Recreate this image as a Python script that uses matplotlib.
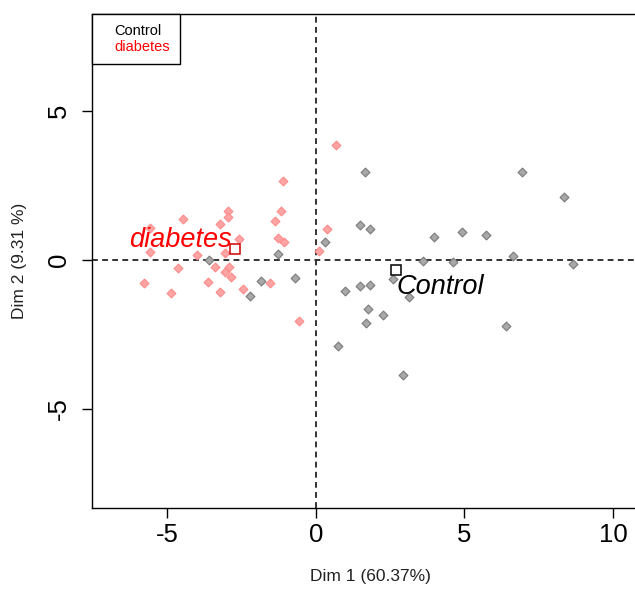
import numpy as np
import matplotlib
matplotlib.use("Agg")
import matplotlib.pyplot as plt
from matplotlib.lines import Line2D

plt.rcParams['font.family'] = ['Liberation Sans', 'DejaVu Sans']
plt.rcParams['axes.unicode_minus'] = False

# individuals on the first two principal components
diab_x = [-1.10, -1.18, -1.38, -1.27, -1.08, -2.97, -2.95, -3.23, -4.49, -5.59,
          -5.59, -2.58, -4.02, -3.06, -4.64, -3.39, -2.92, -3.06, -2.87, -3.63,
          -5.78, -4.88, -3.23, -2.47, -1.55, -0.56, 0.11, 0.36, 0.67]
diab_y = [2.65, 1.65, 1.31, 0.74, 0.61, 1.65, 1.43, 1.20, 1.36, 1.08,
          0.26, 0.69, 0.16, 0.24, -0.27, -0.23, -0.23, -0.40, -0.59, -0.76,
          -0.79, -1.12, -1.09, -0.99, -0.79, -2.04, 0.31, 1.02, 3.85]

ctrl_x = [-3.59, -1.27, -1.85, -2.22, -0.71, 0.30, 1.65, 6.93, 8.36, 1.49,
          1.83, 3.98, 4.91, 5.72, 3.60, 4.60, 6.62, 8.64, 2.60, 0.98,
          1.49, 1.83, 3.14, 1.74, 2.27, 1.69, 6.39, 0.73, 2.94]
ctrl_y = [-0.01, 0.19, -0.70, -1.21, -0.60, 0.59, 2.94, 2.94, 2.12, 1.17,
          1.02, 0.78, 0.92, 0.83, -0.03, -0.08, 0.12, -0.14, -0.65, -1.04,
          -0.89, -0.84, -1.24, -1.65, -1.84, -2.13, -2.22, -2.90, -3.86]

# group barycentres
diab_centre = (-2.72, 0.36)
ctrl_centre = (2.68, -0.34)

groups = ['Control', 'diabetes']
group_colors = ['black', '#ff0000']

fig = plt.figure(figsize=(6.35, 5.89), dpi=100)
ax = fig.add_axes([92 / 635, 81 / 589, (648 - 92) / 635, (508 - 14) / 589])

ax.axhline(0, color='#333333', lw=1.4, ls=(0, (3, 2.2)), zorder=1)
ax.axvline(0, color='#333333', lw=1.4, ls=(0, (3, 2.2)), zorder=1)

ax.scatter(ctrl_x, ctrl_y, marker='D', s=20, c='#a8a8a8',
           edgecolors='#7a7a7a', linewidths=0.8, zorder=3)
ax.scatter(diab_x, diab_y, marker='D', s=20, c='#ffa4a4',
           edgecolors='#ff8a8a', linewidths=0.8, zorder=3)

ax.plot(*diab_centre, marker='s', ms=7.8, mfc='none', mec='#cc0000', mew=1.1, zorder=4)
ax.plot(*ctrl_centre, marker='s', ms=7.8, mfc='none', mec='black', mew=1.1, zorder=4)

ax.annotate('diabetes', diab_centre, xytext=(-3, 2), textcoords='offset pixels',
            ha='right', va='baseline', fontsize=19.5, style='italic',
            color='#ff0000', zorder=5)
ax.annotate('Control', ctrl_centre, xytext=(1, -4), textcoords='offset pixels',
            ha='left', va='top', fontsize=19.5, style='italic',
            color='black', zorder=5)

ax.set_xlim(-7.54, 11.18)
ax.set_ylim(-8.33, 8.25)
ax.set_xticks([-5, 0, 5, 10])
ax.set_yticks([-5, 0, 5])
ax.tick_params(direction='out', length=7.2, width=1.0, labelsize=18.5)
ax.tick_params(axis='x', pad=3.5)
ax.tick_params(axis='y', pad=8, labelrotation=90)
for lab in ax.get_yticklabels():
    lab.set_va('center')
for sp in ax.spines.values():
    sp.set_linewidth(1.0)

ax.set_xlabel('Dim 1 (60.37%)', fontsize=12.5, color='#222222', labelpad=16)
ax.set_ylabel('Dim 2 (9.31 %)', fontsize=12.5, color='#222222', labelpad=14)

handles = [Line2D([], [], linestyle='none') for _ in groups]
leg = ax.legend(handles, groups, loc='upper left', borderaxespad=0,
                fontsize=10.5, labelcolor=group_colors, fancybox=False,
                framealpha=1, edgecolor='black', handlelength=0.85,
                handletextpad=0, borderpad=0.68, labelspacing=0.15)
leg.get_frame().set_linewidth(1.0)

fig.savefig('out.png', dpi=100)
